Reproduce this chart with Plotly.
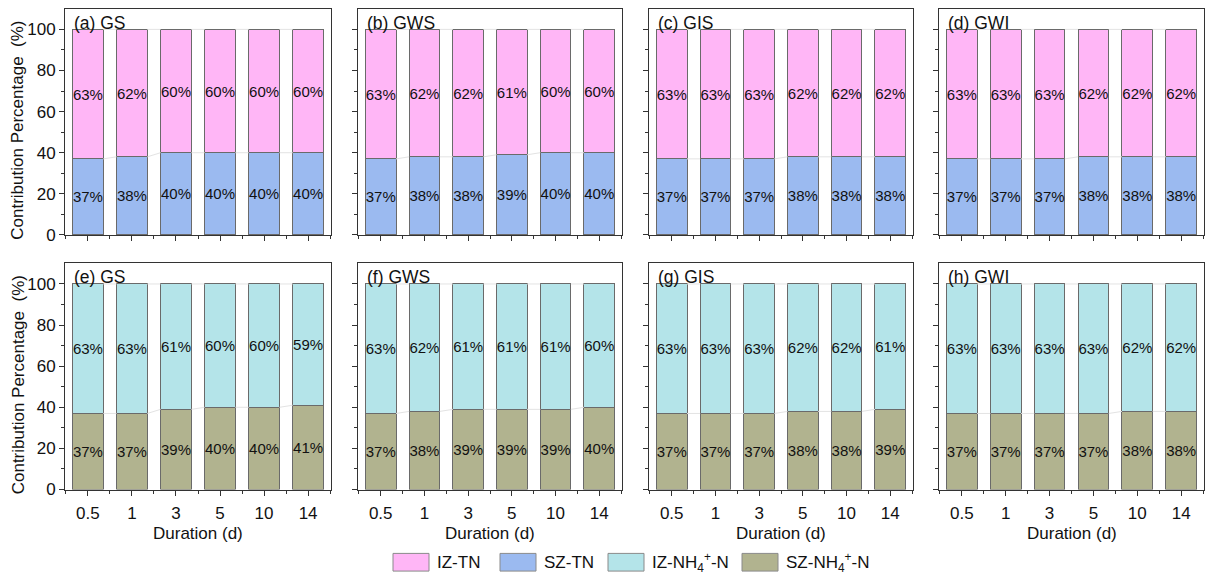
import plotly.graph_objects as go

# Sampling durations (days)
durations = ["0.5", "1", "3", "5", "10", "14"]
treatments = ["GS", "GWS", "GIS", "GWI"]

# Total nitrogen: surface-zone (SZ) and inner-zone (IZ) contributions, %
sz_tn_gs = [37, 38, 40, 40, 40, 40]
iz_tn_gs = [63, 62, 60, 60, 60, 60]
sz_tn_gws = [37, 38, 38, 39, 40, 40]
iz_tn_gws = [63, 62, 62, 61, 60, 60]
sz_tn_gis = [37, 37, 37, 38, 38, 38]
iz_tn_gis = [63, 63, 63, 62, 62, 62]
sz_tn_gwi = [37, 37, 37, 38, 38, 38]
iz_tn_gwi = [63, 63, 63, 62, 62, 62]

# Ammonium nitrogen: SZ and IZ contributions, %
sz_nh4_gs = [37, 37, 39, 40, 40, 41]
iz_nh4_gs = [63, 63, 61, 60, 60, 59]
sz_nh4_gws = [37, 38, 39, 39, 39, 40]
iz_nh4_gws = [63, 62, 61, 61, 61, 60]
sz_nh4_gis = [37, 37, 37, 38, 38, 39]
iz_nh4_gis = [63, 63, 63, 62, 62, 61]
sz_nh4_gwi = [37, 37, 37, 37, 38, 38]
iz_nh4_gwi = [63, 63, 63, 63, 62, 62]

series_names = ["IZ-TN", "SZ-TN", "IZ-NH<sub>4</sub><sup>+</sup>-N", "SZ-NH<sub>4</sub><sup>+</sup>-N"]
colors = ["#FFB6F6", "#9BBAF0", "#B4E4E9", "#B1B38F"]

panels = [
    ("(a)", sz_tn_gs, iz_tn_gs, 0), ("(b)", sz_tn_gws, iz_tn_gws, 0),
    ("(c)", sz_tn_gis, iz_tn_gis, 0), ("(d)", sz_tn_gwi, iz_tn_gwi, 0),
    ("(e)", sz_nh4_gs, iz_nh4_gs, 1), ("(f)", sz_nh4_gws, iz_nh4_gws, 1),
    ("(g)", sz_nh4_gis, iz_nh4_gis, 1), ("(h)", sz_nh4_gwi, iz_nh4_gwi, 1),
]

W, H = 1207, 586
FONT = "Liberation Sans, Arial, sans-serif"
col_px = [(65, 331), (358, 622), (649, 913), (939, 1204)]
row_px = [(9, 239), (268, 498)]

fig = go.Figure()
xs = list(range(len(durations)))
bar_half = 0.35

annotations = []
layout_axes = {}
for k, (tag, sz, iz, row) in enumerate(panels):
    col = k % 4
    n = k + 1
    xa = "x" if n == 1 else f"x{n}"
    ya = "y" if n == 1 else f"y{n}"
    lo_color = colors[1] if row == 0 else colors[3]
    hi_color = colors[0] if row == 0 else colors[2]

    # faint connectors between adjacent stack boundaries
    totals = [a + b for a, b in zip(sz, iz)]
    for level in (sz, totals):
        cx, cy = [], []
        for i in range(len(xs) - 1):
            cx += [xs[i] + bar_half, xs[i + 1] - bar_half, None]
            cy += [level[i], level[i + 1], None]
        fig.add_trace(go.Scatter(x=cx, y=cy, mode="lines", xaxis=xa, yaxis=ya,
                                 line=dict(color="#e3e3e3", width=1),
                                 hoverinfo="skip", showlegend=False))

    for vals, colr in ((sz, lo_color), (iz, hi_color)):
        fig.add_trace(go.Bar(
            x=xs, y=vals, xaxis=xa, yaxis=ya,
            marker=dict(color=colr, line=dict(color="#6a6a6a", width=1)),
            text=[f"{v}%" for v in vals], textposition="inside",
            insidetextanchor="middle", textangle=0, constraintext="none",
            textfont=dict(size=15, color="#111", family=FONT),
            showlegend=False))

    x0, x1 = col_px[col]
    y0, y1 = row_px[row]
    xaxis_key = "xaxis" if n == 1 else f"xaxis{n}"
    yaxis_key = "yaxis" if n == 1 else f"yaxis{n}"
    layout_axes[xaxis_key] = dict(
        domain=[x0 / W, x1 / W], anchor=ya, range=[-0.52, 5.52],
        tickmode="array", tickvals=xs, ticktext=durations,
        showticklabels=(row == 1), ticklabelstandoff=3,
        ticks="outside", ticklen=5, tickcolor="#333", tickwidth=1,
        minor=dict(tickmode="array", tickvals=[i + 0.5 for i in range(-1, len(xs))],
                   ticks="outside", ticklen=3, tickcolor="#333"),
        showline=True, mirror=True, linecolor="#333", linewidth=1,
        showgrid=False, zeroline=False,
        tickfont=dict(size=17, color="#111", family=FONT),
    )
    layout_axes[yaxis_key] = dict(
        domain=[1 - y1 / H, 1 - y0 / H], anchor=xa, range=[0, 110],
        tickmode="array", tickvals=[0, 20, 40, 60, 80, 100],
        showticklabels=(col == 0),
        ticks="outside", ticklen=5, tickcolor="#333", tickwidth=1,
        minor=dict(tickmode="array", tickvals=[10, 30, 50, 70, 90],
                   ticks="outside", ticklen=3, tickcolor="#333"),
        showline=True, mirror=True, linecolor="#333", linewidth=1,
        showgrid=False, zeroline=False,
        tickfont=dict(size=17, color="#111", family=FONT),
    )

    # panel tag
    annotations.append(dict(
        text=f"{tag} {treatments[col]}", xref="paper", yref="paper",
        x=(x0 + 7) / W, y=1 - (y0 + 14) / H, xanchor="left", yanchor="middle",
        showarrow=False, font=dict(size=17.5, color="#111", family=FONT)))
    if row == 1:
        annotations.append(dict(
            text="Duration (d)", xref="paper", yref="paper",
            x=(x0 + x1) / 2 / W, y=1 - 543 / H, xanchor="center", yanchor="middle",
            showarrow=False, font=dict(size=17, color="#111", family=FONT)))
    if col == 0:
        annotations.append(dict(
            text="Contribution Percentage &nbsp;(%)", xref="paper", yref="paper",
            x=18 / W, y=1 - (y0 + y1 + 18) / 2 / H, xanchor="center", yanchor="middle",
            textangle=-90, showarrow=False,
            font=dict(size=17, color="#111", family=FONT)))

# legend row along the bottom
shapes = []
legend_x = [393, 500, 608, 742]
for lx, name, colr in zip(legend_x, series_names, colors):
    shapes.append(dict(type="rect", xref="paper", yref="paper",
                       x0=lx / W, x1=(lx + 36) / W, y0=1 - 581 / H, y1=1 - 563 / H,
                       fillcolor=colr, line=dict(color="#8a8a8a", width=1)))
    annotations.append(dict(
        text=name, xref="paper", yref="paper", x=(lx + 42) / W, y=1 - 572 / H,
        xanchor="left", yanchor="middle", showarrow=False,
        font=dict(size=17, color="#111", family=FONT)))

fig.update_layout(
    width=W, height=H, margin=dict(l=0, r=0, t=0, b=0),
    paper_bgcolor="white", plot_bgcolor="white",
    barmode="stack", bargap=0.3,
    font=dict(family=FONT, color="#111"),
    annotations=annotations, shapes=shapes, showlegend=False,
    **layout_axes,
)

fig.write_html("out.html")
